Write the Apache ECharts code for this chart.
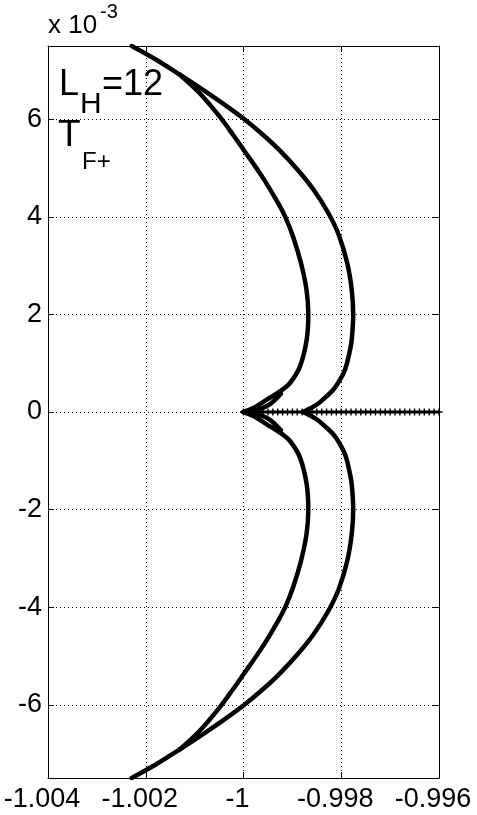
<!DOCTYPE html>
<html>
<head>
<meta charset="utf-8">
<script src="https://cdn.jsdelivr.net/npm/echarts@6/dist/echarts.min.js"></script>
<style>
  html, body { margin: 0; padding: 0; background: #fff; }
  #chart { width: 477px; height: 815px; }
</style>
</head>
<body>
<div id="chart"></div>
<script>
// y values are in units of 1e-3 (axis shows "x 10^-3")
// outer branch, upper half, from top-left end down to the cusp on y=0
const outerX = [-1.002288, -1.001786, -1.001301, -1.000835, -1.000389, -0.999988, -0.999603, -0.999274, -0.998893, -0.998566, -0.998265, -0.998052, -0.997878, -0.997786, -0.997756, -0.997786, -0.997841, -0.997923, -0.998036, -0.998163, -0.998333, -0.998502, -0.99878]
const outerY = [7.5, 7.219, 6.912, 6.605, 6.297, 6.004, 5.682, 5.375, 4.965, 4.555, 4.078, 3.633, 3.053, 2.506, 2.008, 1.482, 1.174, 0.867, 0.641, 0.457, 0.293, 0.15, 0]
// inner branch, upper half, from the split point down to the cusp at -1
const innerX = [-1.001301, -1.0009, -1.000491, -1.000215, -1.0, -0.999622, -0.999294, -0.999141, -0.998987, -0.998824, -0.998711, -0.998674, -0.998707, -0.998844, -0.999049, -0.999253, -0.999525, -0.999799, -1.0]
const innerY = [6.912, 6.537, 6.057, 5.682, 5.375, 4.828, 4.283, 3.988, 3.598, 3.053, 2.506, 2.008, 1.482, 0.934, 0.594, 0.422, 0.252, 0.082, 0]
// small swallowtail sliver going back from the cusp
const loopX = [-1.0, -0.999703, -0.999458, -0.999233]
const loopY = [0, 0.047, 0.16, 0.375]
// points on the real axis (drawn with + markers)
const rayX = [-1.0, -0.9999, -0.9998, -0.9997, -0.9996, -0.9995, -0.9994, -0.9993, -0.9992, -0.9991,
  -0.999, -0.9989, -0.9988, -0.9987, -0.9986, -0.9985, -0.9984, -0.9983, -0.9982, -0.9981,
  -0.998, -0.9979, -0.9978, -0.9977, -0.9976, -0.9975, -0.9974, -0.9973, -0.9972, -0.9971,
  -0.997, -0.9969, -0.9968, -0.9967, -0.9966, -0.9965, -0.9964, -0.9963, -0.9962, -0.9961, -0.996]
const yTicks = [-6, -4, -2, 0, 2, 4, 6]

const font = 'Liberation Sans, Arial, Helvetica, sans-serif'

function pairs(xs, ys, sign) {
  return xs.map(function(x, i) { return [x, sign * ys[i]] })
}

const myChart = echarts.init(document.getElementById('chart'), null, { renderer: 'canvas' })

const curveStyle = { color: '#000', width: 4.5, cap: 'round', join: 'round' }
const curves = []
;[1, -1].forEach(function(s) {
  curves.push({ data: pairs(outerX, outerY, s), smooth: 0.35 })
  curves.push({ data: pairs(innerX, innerY, s), smooth: 0.35 })
  curves.push({ data: pairs(loopX, loopY, s), smooth: 0.3 })
})

const series = curves.map(function(c) {
  return {
    type: 'line',
    data: c.data,
    smooth: c.smooth,
    showSymbol: false,
    clip: true,
    silent: true,
    lineStyle: curveStyle
  }
})

series.push({
  type: 'line',
  data: rayX.map(function(x) { return [x, 0] }),
  symbol: 'path://M4,0h2v4h4v2h-4v4h-2v-4h-4v-2h4z',
  symbolSize: 7,
  showSymbol: true,
  itemStyle: { color: '#000' },
  lineStyle: { color: '#000', width: 3 },
  silent: true,
  markLine: {
    silent: true,
    symbol: 'none',
    label: { show: false },
    lineStyle: { color: '#000', width: 1, type: [1, 3] },
    data: yTicks.map(function(v) { return { yAxis: v } })
  }
})

const axisLineStyle = { show: true, onZero: false, lineStyle: { color: '#000', width: 1 } }
const tickStyle = { show: true, inside: true, length: 6, lineStyle: { color: '#000' } }

myChart.setOption({
  backgroundColor: '#fff',
  animation: false,
  grid: { left: 48, right: 38, top: 46, bottom: 37, containLabel: false, outerBoundsMode: 'none' },
  xAxis: [
    {
      type: 'value',
      min: -1.004,
      max: -0.996,
      interval: 0.002,
      position: 'bottom',
      axisLine: axisLineStyle,
      axisTick: tickStyle,
      axisLabel: {
        color: '#000',
        fontSize: 27,
        fontFamily: font,
        margin: 8,
        padding: [0, 12, 0, 0],
        showMinLabel: true,
        showMaxLabel: true,
        formatter: function(v) { return String(parseFloat(v.toFixed(3))) }
      },
      splitLine: { show: true, lineStyle: { color: '#000', width: 1, type: [1, 3] } }
    },
    {
      type: 'value',
      min: -1.004,
      max: -0.996,
      interval: 0.002,
      position: 'top',
      axisLine: axisLineStyle,
      axisTick: tickStyle,
      axisLabel: { show: false },
      splitLine: { show: false }
    }
  ],
  yAxis: [
    {
      type: 'value',
      min: -7.5,
      max: 7.5,
      position: 'left',
      axisLine: axisLineStyle,
      axisTick: Object.assign({ customValues: yTicks }, tickStyle),
      axisLabel: { color: '#000', fontSize: 27, fontFamily: font, margin: 6, customValues: yTicks },
      splitLine: { show: false }
    },
    {
      type: 'value',
      min: -7.5,
      max: 7.5,
      position: 'right',
      axisLine: axisLineStyle,
      axisTick: Object.assign({ customValues: yTicks }, tickStyle),
      axisLabel: { show: false },
      splitLine: { show: false }
    }
  ],
  graphic: [
    { type: 'text', left: 48, top: 13, style: { text: 'x 10', fontSize: 26, fontFamily: font, fill: '#000' } },
    { type: 'text', left: 100, top: 2, style: { text: '-3', fontSize: 20, fontFamily: font, fill: '#000' } },
    { type: 'text', left: 59, top: 67, style: { text: 'L', fontSize: 36, fontFamily: font, fill: '#000' } },
    { type: 'text', left: 80, top: 90, style: { text: 'H', fontSize: 30, fontFamily: font, fill: '#000' } },
    { type: 'text', left: 102, top: 67, style: { text: '=12', fontSize: 36, fontFamily: font, fill: '#000' } },
    { type: 'text', left: 58, top: 117, style: { text: 'T', fontSize: 37, fontFamily: font, fill: '#000' } },
    { type: 'text', left: 82, top: 150, style: { text: 'F+', fontSize: 24, fontFamily: font, fill: '#000' } }
  ],
  series: series
})

window.addEventListener('resize', function() {
  myChart.resize()
})
</script>
</body>
</html>
